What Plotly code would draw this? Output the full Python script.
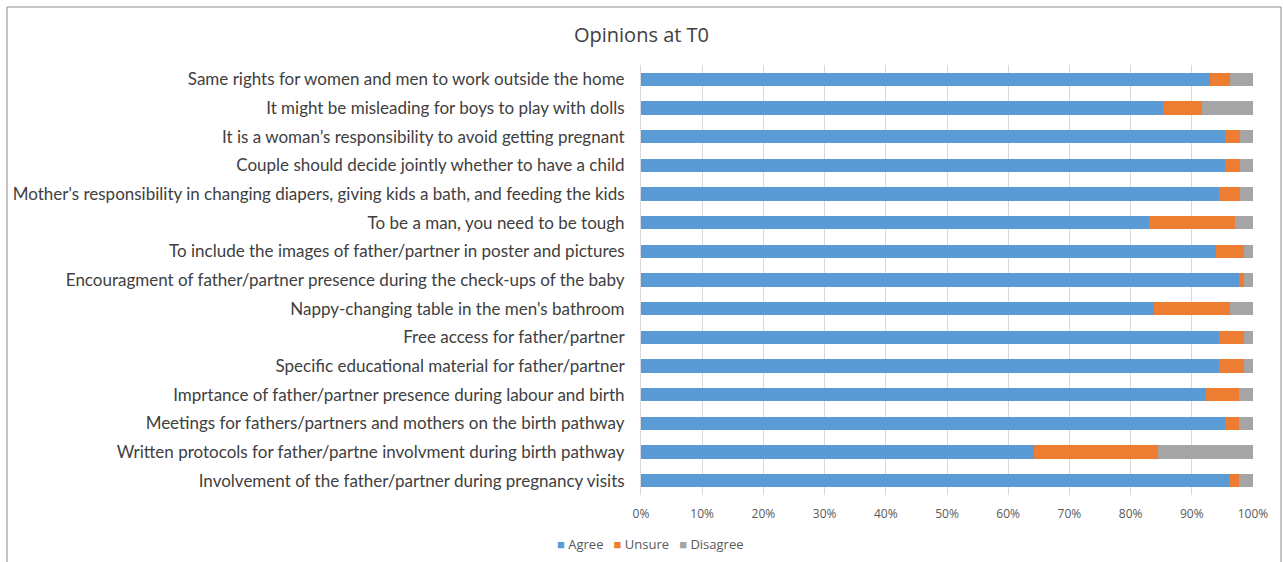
import plotly.graph_objects as go

# Statements, listed top to bottom as shown
statements = [
    "Same rights for women and men to work outside the home",
    "It might be misleading for boys to play with dolls",
    "It is a woman’s responsibility to avoid getting pregnant",
    "Couple should decide jointly whether to have a child",
    "Mother's responsibility in changing diapers, giving kids a bath, and feeding the kids",
    "To be a man, you need to be tough",
    "To include the images of father/partner in poster and pictures",
    "Encouragment of father/partner presence during the check-ups of the baby",
    "Nappy-changing table in the men's bathroom",
    "Free access for father/partner",
    "Specific educational material for father/partner",
    "Imprtance of father/partner presence during labour and birth",
    "Meetings for fathers/partners and mothers on the birth pathway",
    "Written protocols for father/partne involvment during birth pathway",
    "Involvement of the father/partner during pregnancy visits",
]

# Share of responses (fractions)
agree = [0.930, 0.853, 0.954, 0.954, 0.945, 0.830, 0.940, 0.977, 0.838, 0.945,
         0.945, 0.923, 0.954, 0.642, 0.962]
unsure = [0.032, 0.063, 0.024, 0.024, 0.033, 0.140, 0.045, 0.008, 0.124, 0.040,
          0.040, 0.054, 0.023, 0.202, 0.015]
disagree = [0.038, 0.084, 0.022, 0.022, 0.022, 0.030, 0.015, 0.015, 0.038, 0.015,
            0.015, 0.023, 0.023, 0.156, 0.023]

tick_vals = [i / 10 for i in range(11)]
tick_text = [f"{i * 10}%" for i in range(11)]

series = [
    ("Agree", agree, "#5B9BD5"),
    ("Unsure", unsure, "#ED7D31"),
    ("Disagree", disagree, "#A5A5A5"),
]

fig = go.Figure()
for name, vals, color in series:
    fig.add_trace(go.Bar(
        y=statements, x=vals, name=name, orientation="h",
        marker=dict(color=color, line=dict(width=0)),
        showlegend=False,
    ))

W, H = 1283, 562
ml, mr, mt, mb = 641, 30, 65, 67
pw, ph = W - ml - mr, H - mt - mb

# Compact legend row built from coloured squares and series names
legend_text = "&nbsp;&nbsp;&nbsp;".join(
    f"<span style='color:{c}'>■</span>&nbsp;{n}" for n, _, c in series
)

fig.update_layout(
    width=W, height=H,
    barmode="stack", bargap=0.54,
    paper_bgcolor="white", plot_bgcolor="white",
    margin=dict(l=ml, r=mr, t=mt, b=mb, autoexpand=False),
    font=dict(family="Lato, sans-serif", color="#404040"),
    title=dict(text="Opinions at T0", x=0.5, xanchor="center", y=1 - 35 / H,
               yanchor="middle",
               font=dict(family="Open Sans, sans-serif", size=20, color="#404040")),
    xaxis=dict(range=[0, 1], tickvals=tick_vals, ticktext=tick_text,
               showgrid=True, gridcolor="#D9D9D9", gridwidth=1, zeroline=False,
               showline=False, ticks="", ticklabelstandoff=10,
               tickfont=dict(family="Open Sans, sans-serif", size=12, color="#595959")),
    yaxis=dict(autorange="reversed", showgrid=False, ticks="",
               showline=True, linecolor="#D9D9D9", linewidth=1,
               ticklabelstandoff=12,
               tickfont=dict(size=17, color="#404040")),
    annotations=[dict(text=legend_text, xref="paper", yref="paper",
                      x=(650 - ml) / pw, y=-(544 - (H - mb)) / ph,
                      xanchor="center", yanchor="middle", showarrow=False,
                      font=dict(family="Open Sans, sans-serif", size=13, color="#595959"))],
    shapes=[dict(type="rect", xref="paper", yref="paper",
                 x0=(7 - ml) / pw, x1=(1281 - ml) / pw,
                 y0=-(H + 10 - (H - mb)) / ph,
                 y1=1 + (mt - 7) / ph,
                 line=dict(color="#8C8C8C", width=1))],
)

fig.write_html("out.html")
